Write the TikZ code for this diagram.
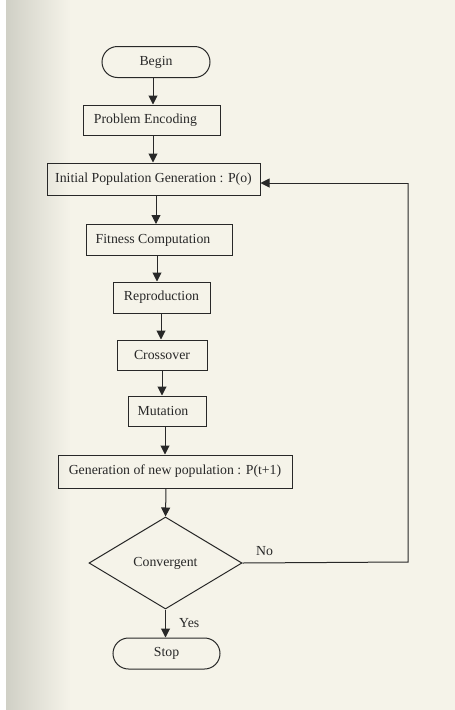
\documentclass[tikz,border=0pt]{standalone}
\usepackage{fontspec}
\setmainfont{Liberation Serif}
\usetikzlibrary{arrows.meta,shapes.geometric,shapes.misc}
\definecolor{paper}{RGB}{245,243,233}
\definecolor{paperdark}{RGB}{208,208,198}
\definecolor{ink}{RGB}{40,40,40}
\begin{document}
\begin{tikzpicture}[x=1pt,y=-1pt,
  every node/.style={font=\fontsize{13.8}{15}\selectfont, text=ink},
  procbox/.style={draw=ink, line width=1pt, rectangle, inner sep=0pt},
  termbox/.style={draw=ink, line width=1pt, rounded rectangle, inner sep=0pt},
  flow/.style={draw=ink, line width=1pt, -{Triangle[length=9pt,width=9pt]}},
  plain/.style={draw=ink, line width=1pt}]
\useasboundingbox (0,0) rectangle (455,710);
\fill[paper] (0,0) rectangle (455,710);
\shade[left color=paperdark, right color=paper] (6,0) rectangle (70,710);
\fill[white] (0,0) rectangle (6,710);

\node[termbox, minimum width=108pt, minimum height=31pt] (begin) at (156,62) {Begin};
\node[procbox, minimum width=137pt, minimum height=30pt] (enc) at (151.5,120) {\hspace*{-12pt}Problem Encoding};
\node[procbox, minimum width=213pt, minimum height=32pt] (init) at (153.5,179) {Initial Population Generation : P(o)};
\node[procbox, minimum width=146pt, minimum height=31pt] (fit) at (159,240) {\hspace*{-12pt}Fitness Computation};
\node[procbox, minimum width=97pt, minimum height=31pt] (rep) at (161.5,297.5) {Reproduction};
\node[procbox, minimum width=90pt, minimum height=30pt] (cross) at (162,355) {Crossover};
\node[procbox, minimum width=78pt, minimum height=30pt] (mut) at (167,411) {\hspace*{-8pt}Mutation};
\node[procbox, minimum width=234pt, minimum height=33pt] (gen) at (175,471.5) {Generation of new population : P(t+1)};
\node[draw=ink, line width=1pt, diamond, aspect=1.66, minimum width=153pt, minimum height=92pt, inner sep=0pt] (conv) at (165.5,563) {\raisebox{-3pt}{Convergent}};
\node[termbox, minimum width=107pt, minimum height=31pt] (stop) at (166.5,653.5) {Stop};

\coordinate (c1) at (408,562);
\coordinate (c2) at (408,183);

\draw[flow] (begin.south -| 153,0) -- (enc.north -| 153,0);
\draw[flow] (enc.south -| 153,0) -- (init.north -| 153,0);
\draw[flow] (init.south -| 156,0) -- (fit.north -| 156,0);
\draw[flow] (fit.south -| 157,0) -- (rep.north -| 157,0);
\draw[flow] (rep.south -| 161,0) -- (cross.north -| 161,0);
\draw[flow] (cross.south -| 162,0) -- (mut.north -| 162,0);
\draw[flow] (mut.south -| 165,0) -- (gen.north -| 165,0);
\draw[flow] (gen.south -| 166,0) -- (conv.north);
\draw[flow] (conv.south) -- (stop.north -| conv.south);
\draw[plain] (conv.east) -- (c1) -- (c2);
\draw[flow] (c2) -- (init.east |- c2);

\node[anchor=south west, inner sep=1pt] (no) at (255,557) {No};
\node[anchor=west, inner sep=1pt] (yes) at (178,623) {Yes};
\end{tikzpicture}
\end{document}
